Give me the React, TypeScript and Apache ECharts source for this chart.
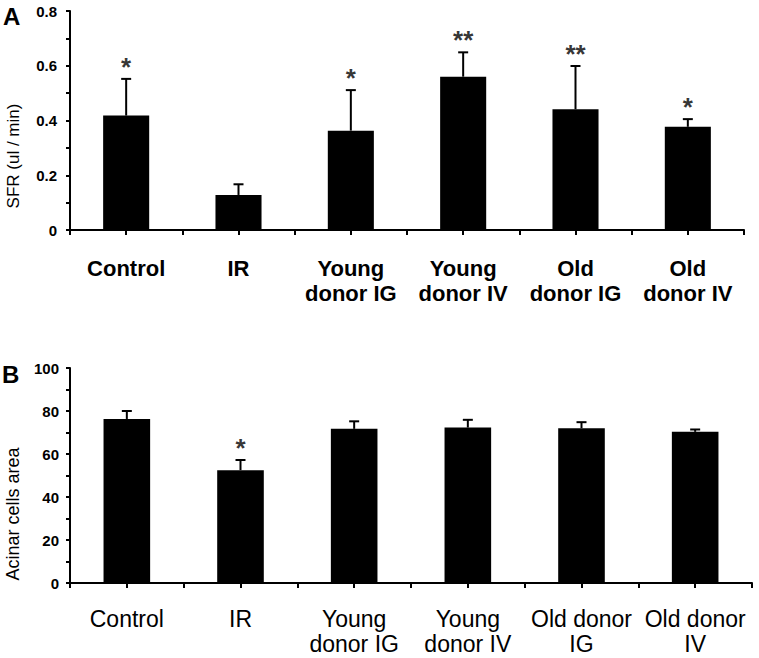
import React, { useEffect, useRef } from "react";
import * as echarts from "echarts";

const catsA = ["Control", "IR", "Young\ndonor IG", "Young\ndonor IV", "Old\ndonor IG", "Old\ndonor IV"];
const catsB = ["Control", "IR", "Young\ndonor IG", "Young\ndonor IV", "Old donor\nIG", "Old donor\nIV"];
const sfrMean = [0.418, 0.128, 0.363, 0.56, 0.441, 0.377];
const sfrErrTop = [0.552, 0.167, 0.511, 0.649, 0.599, 0.405];
const sfrStars = ["*", "", "*", "**", "**", "*"];
const acinarMean = [76.3, 52.5, 71.7, 72.3, 72.0, 70.3];
const acinarErrTop = [80.0, 57.2, 75.2, 75.9, 74.8, 71.4];
const acinarStars = ["", "*", "", "", "", ""];
const ticksA = ["0", "0.2", "0.4", "0.6", "0.8"];
const ticksB = ["0", "20", "40", "60", "80", "100"];

const FONT = "'Liberation Sans', Arial, sans-serif";

function errSeries(means: number[], tops: number[], xi: number, yi: number) {
  return {
    type: "custom",
    xAxisIndex: xi,
    yAxisIndex: yi,
    z: 5,
    data: means.map((m, i) => [i, m, tops[i]]),
    renderItem: (params: any, api: any) => {
      const x = api.value(0);
      const p0 = api.coord([x, api.value(1)]);
      const p1 = api.coord([x, api.value(2)]);
      return {
        type: "group",
        children: [
          { type: "line", shape: { x1: p0[0], y1: p0[1], x2: p1[0], y2: p1[1] }, style: { stroke: "#000", lineWidth: 2 } },
          { type: "line", shape: { x1: p1[0] - 5, y1: p1[1], x2: p1[0] + 5, y2: p1[1] }, style: { stroke: "#000", lineWidth: 2 } },
        ],
      };
    },
  };
}

function starSeries(tops: number[], stars: string[], xi: number, yi: number) {
  return {
    type: "scatter",
    xAxisIndex: xi,
    yAxisIndex: yi,
    symbolSize: 0,
    z: 6,
    data: tops.map((t, i) => ({ value: [i, t], label: { formatter: stars[i] } })),
    label: {
      show: true,
      position: "inside",
      offset: [0, -12],
      color: "#000",
      fontFamily: FONT,
      fontWeight: "bold",
      fontSize: 26,
    },
  };
}

function xAxes(cats: string[], gridIndex: number, bold: boolean, margin: number, size: number) {
  return [
    {
      type: "category",
      gridIndex,
      position: "bottom",
      data: cats,
      axisLine: { lineStyle: { color: "#000", width: 2 } },
      axisTick: { show: true, alignWithLabel: false, length: 5, lineStyle: { color: "#000", width: 2 } },
      axisLabel: {
        color: "#000",
        fontFamily: FONT,
        fontSize: size,
        fontWeight: bold ? "bold" : "normal",
        lineHeight: 25,
        margin,
        interval: 0,
      },
    },
    {
      type: "category",
      gridIndex,
      position: "bottom",
      data: cats,
      axisLine: { show: false },
      axisTick: { show: true, alignWithLabel: true, length: 5, lineStyle: { color: "#000", width: 2 } },
      axisLabel: { show: false },
    },
  ];
}

function yAxis(gridIndex: number, max: number, interval: number, ticks: string[], margin: number) {
  return {
    type: "value",
    gridIndex,
    min: 0,
    max,
    interval,
    splitLine: { show: false },
    axisLine: { show: true, lineStyle: { color: "#000", width: 2 } },
    axisTick: { show: true, length: 4, lineStyle: { color: "#000", width: 2 } },
    minorTick: { show: true, splitNumber: 2, length: 4, lineStyle: { color: "#000", width: 2 } },
    axisLabel: {
      color: "#000",
      fontFamily: FONT,
      fontSize: 15,
      fontWeight: "bold",
      margin,
      formatter: (v: number) => {
        const idx = Math.round(v / interval);
        return ticks[idx] ?? "";
      },
    },
  };
}

export default function App() {
  const ref = useRef<HTMLDivElement>(null);
  useEffect(() => {
    const chart = echarts.init(ref.current!, null, { renderer: "svg" });
    const xa = xAxes(catsA, 0, true, 26, 22);
    const xb = xAxes(catsB, 1, false, 23, 23);
    chart.setOption({
      animation: false,
      backgroundColor: "#fff",
      grid: [
        { left: 70, top: 11, width: 674, height: 219 },
        { left: 70, top: 368, width: 682, height: 215 },
      ],
      xAxis: [...xa, ...xb],
      yAxis: [yAxis(0, 0.8, 0.2, ticksA, 13), yAxis(1, 100, 20, ticksB, 11)],
      graphic: [
        { type: "text", left: 3, top: 4, style: { text: "A", font: `bold 24px ${FONT}`, fill: "#000" } },
        { type: "text", left: 2, top: 362, style: { text: "B", font: `bold 24px ${FONT}`, fill: "#000" } },
        {
          type: "text",
          x: 13,
          y: 156,
          rotation: Math.PI / 2,
          style: { text: "SFR (ul / min)", font: `17px ${FONT}`, fill: "#000", align: "center", verticalAlign: "middle" },
        },
        {
          type: "text",
          x: 13,
          y: 514,
          rotation: Math.PI / 2,
          style: { text: "Acinar cells area", font: `18px ${FONT}`, fill: "#000", align: "center", verticalAlign: "middle" },
        },
      ],
      series: [
        { type: "bar", xAxisIndex: 0, yAxisIndex: 0, data: sfrMean, barWidth: "41%", itemStyle: { color: "#000" } },
        errSeries(sfrMean, sfrErrTop, 0, 0),
        starSeries(sfrErrTop, sfrStars, 0, 0),
        { type: "bar", xAxisIndex: 2, yAxisIndex: 1, data: acinarMean, barWidth: "41%", itemStyle: { color: "#000" } },
        errSeries(acinarMean, acinarErrTop, 2, 1),
        starSeries(acinarErrTop, acinarStars, 2, 1),
      ],
    });
    return () => chart.dispose();
  }, []);
  return <div ref={ref} style={{ position: "fixed", left: 0, top: 0, width: 759, height: 658 }} />;
}
